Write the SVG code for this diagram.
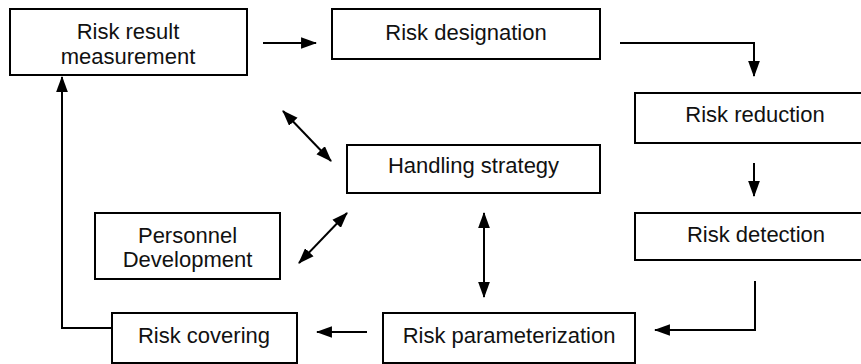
<svg xmlns="http://www.w3.org/2000/svg" width="861" height="364" viewBox="0 0 861 364">
  <style>
    .box { fill: #fff; stroke: #000; stroke-width: 2; }
    .lbl { font-family: "Liberation Sans", Arial, sans-serif; font-size: 22px; fill: #111; text-anchor: middle; }
    .wire { fill: none; stroke: #000; stroke-width: 2; }
    .one { marker-end: url(#tip); }
    .two { marker-start: url(#tip); marker-end: url(#tip); }
  </style>
  <defs>
    <marker id="tip" markerUnits="userSpaceOnUse" markerWidth="16" markerHeight="12" viewBox="0 0 15 11" refX="14" refY="5.5" orient="auto-start-reverse">
      <path d="M0,0 L15,5.5 L0,11 z" fill="#000"/>
    </marker>
  </defs>
  <rect width="861" height="364" fill="#fff"/>

  <g id="risk-result-measurement">
    <rect class="box" x="10" y="9" width="237" height="66"/>
    <text class="lbl" x="128" y="39">Risk result</text>
    <text class="lbl" x="128" y="64">measurement</text>
  </g>
  <g id="risk-designation">
    <rect class="box" x="332" y="9" width="268" height="50"/>
    <text class="lbl" x="466" y="40">Risk designation</text>
  </g>
  <g id="risk-reduction">
    <rect class="box" x="635" y="93" width="240" height="50"/>
    <text class="lbl" x="755" y="122">Risk reduction</text>
  </g>
  <g id="risk-detection">
    <rect class="box" x="635" y="213" width="240" height="47"/>
    <text class="lbl" x="756" y="242">Risk detection</text>
  </g>
  <g id="handling-strategy">
    <rect class="box" x="347" y="145" width="253" height="48"/>
    <text class="lbl" x="473.5" y="173">Handling strategy</text>
  </g>
  <g id="personnel-development">
    <rect class="box" x="95" y="213" width="185" height="66"/>
    <text class="lbl" x="187.5" y="243">Personnel</text>
    <text class="lbl" x="187.5" y="267">Development</text>
  </g>
  <g id="risk-covering">
    <rect class="box" x="112" y="313" width="185" height="50"/>
    <text class="lbl" x="204" y="343">Risk covering</text>
  </g>
  <g id="risk-parameterization">
    <rect class="box" x="383" y="313" width="252" height="50"/>
    <text class="lbl" x="509" y="343">Risk parameterization</text>
  </g>

  <g id="connectors">
    <path class="wire one" d="M263,43 H316"/>
    <path class="wire one" d="M620,43 H754 V76"/>
    <path class="wire one" d="M754,163 V196"/>
    <path class="wire one" d="M755,281 V330 H655"/>
    <path class="wire one" d="M367,332 H317"/>
    <path class="wire one" d="M112,328 H62 V77"/>
    <path class="wire two" d="M283,111 L331,161"/>
    <path class="wire two" d="M299,263 L347,213"/>
    <path class="wire two" d="M484,213 V297"/>
  </g>
</svg>
